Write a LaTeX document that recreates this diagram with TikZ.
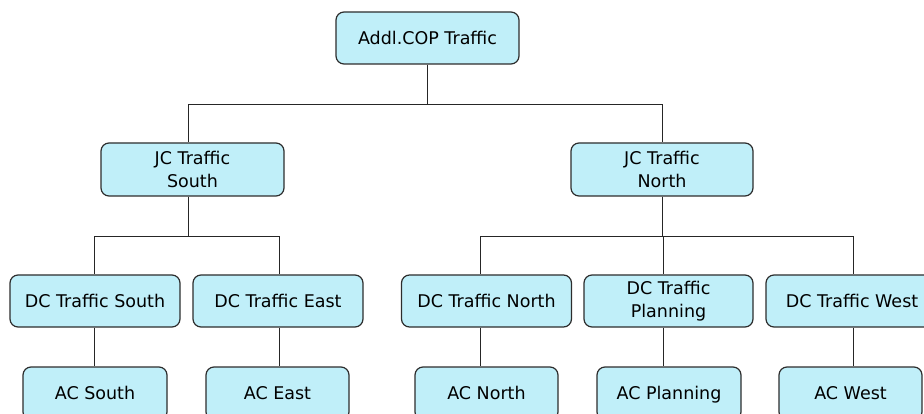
\documentclass[tikz,border=0pt]{standalone}
\usepackage{fontspec}
\setmainfont{DejaVu Sans}
\definecolor{boxfill}{RGB}{192,239,249}
\definecolor{boxline}{RGB}{45,45,45}
\begin{document}
\begin{tikzpicture}[x=1pt,y=-1pt,
  box/.style={draw=boxline, line width=1.2pt, fill=boxfill, rounded corners=8pt,
    inner sep=0pt, align=center, font=\fontsize{17.5}{23}\selectfont},
  onebox/.style={box, text height=12.75pt, text depth=0pt},
  conn/.style={draw=black!85, line width=1pt}]
\useasboundingbox (0,0) rectangle (924,414);
% level 0
\node[onebox, minimum width=183pt, minimum height=52pt] (top) at (427.5,38) {Addl.COP Traffic};
% level 1
\node[box, minimum width=183pt, minimum height=53pt] (jcs) at (192.5,169.5) {JC Traffic\\South};
\node[box, minimum width=182pt, minimum height=53pt] (jcn) at (662,169.5) {JC Traffic\\North};
% level 2
\node[onebox, minimum width=170pt, minimum height=52pt] (dcs) at (95,301) {DC Traffic South};
\node[onebox, minimum width=170pt, minimum height=52pt] (dce) at (278,301) {DC Traffic East};
\node[onebox, minimum width=170pt, minimum height=52pt] (dcn) at (486.5,301) {DC Traffic North};
\node[box, minimum width=169pt, minimum height=52pt] (dcp) at (668.5,301) {DC Traffic\\Planning};
\node[onebox, minimum width=172pt, minimum height=52pt] (dcw) at (852,301) {DC Traffic West};
% level 3
\node[onebox, minimum width=144pt, minimum height=53pt] (acs) at (95,393.5) {AC South};
\node[onebox, minimum width=143pt, minimum height=53pt] (ace) at (277.5,393.5) {AC East};
\node[onebox, minimum width=143pt, minimum height=53pt] (acn) at (486.5,393.5) {AC North};
\node[onebox, minimum width=144pt, minimum height=53pt] (acp) at (669,393.5) {AC Planning};
\node[onebox, minimum width=143pt, minimum height=53pt] (acw) at (850.5,393.5) {AC West};
% connectors
\draw[conn] (top.south) -- ++(0,40) -| ([xshift=-4.5pt]jcs.north);
\draw[conn] (top.south) -- ++(0,40) -| (jcn.north);
\draw[conn] ([xshift=-4.5pt]jcs.south) -- ++(0,40) -| ([xshift=-1pt]dcs.north);
\draw[conn] ([xshift=-4.5pt]jcs.south) -- ++(0,40) -| ([xshift=1pt]dce.north);
\draw[conn] (jcn.south) -- ++(0,39.5) -| ([xshift=-6.5pt]dcn.north);
\draw[conn] (jcn.south) -- ++(0,39.5) -| ([xshift=-5.5pt]dcp.north);
\draw[conn] (jcn.south) -- ++(0,39.5) -| ([xshift=1pt]dcw.north);
\draw[conn] ([xshift=-1pt]dcs.south) -- ([xshift=-1pt]dcs.south |- acs.north);
\draw[conn] ([xshift=1pt]dce.south) -- ([xshift=1pt]dce.south |- ace.north);
\draw[conn] ([xshift=-6.5pt]dcn.south) -- ([xshift=-6.5pt]dcn.south |- acn.north);
\draw[conn] ([xshift=-5.5pt]dcp.south) -- ([xshift=-5.5pt]dcp.south |- acp.north);
\draw[conn] ([xshift=1pt]dcw.south) -- ([xshift=1pt]dcw.south |- acw.north);
\end{tikzpicture}
\end{document}
